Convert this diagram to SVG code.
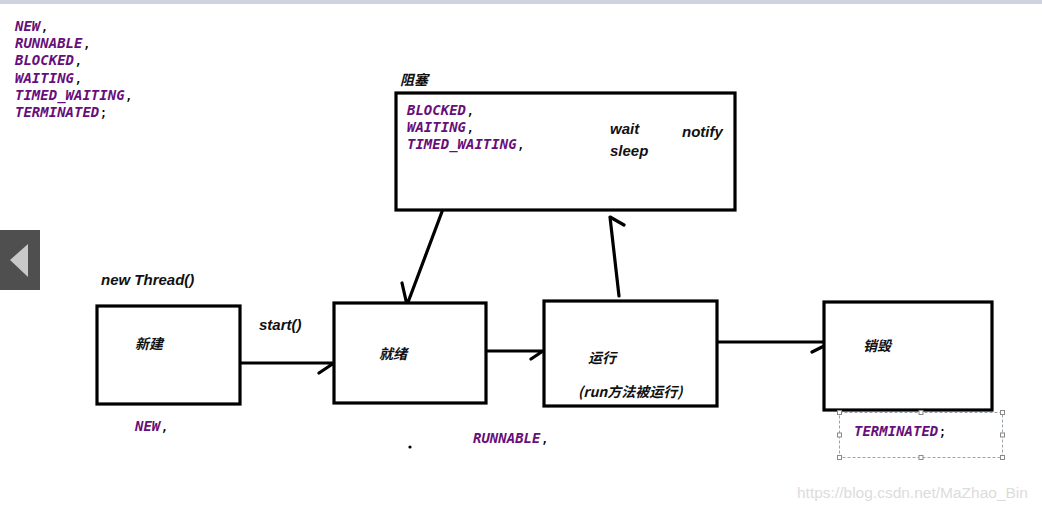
<svg xmlns="http://www.w3.org/2000/svg" width="1042" height="511" viewBox="0 0 1042 511">
  <style>
    .box { fill: #ffffff; stroke: #000000; stroke-width: 3.2; }
    .edge { fill: none; stroke: #000000; stroke-width: 3.2; stroke-linecap: round; stroke-linejoin: round; }
    .lbl { font-family: "Liberation Sans", "Noto Sans CJK SC", sans-serif; font-weight: bold; font-style: italic; font-size: 15px; fill: #111111; }
    .cn { font-family: "Noto Sans CJK SC", "Liberation Sans", sans-serif; font-weight: bold; font-style: italic; font-size: 14px; fill: #111111; }
    .const { font-family: "DejaVu Sans Mono", "Liberation Mono", monospace; font-weight: bold; font-style: italic; font-size: 14px; fill: #660e7a; }
    .punct { font-style: normal; font-weight: normal; fill: #000000; }
    .handle { fill: #ffffff; stroke: #8a8a8a; stroke-width: 1; }
  </style>

  <!-- window chrome -->
  <rect x="0" y="0" width="1042" height="4" fill="#cfd3df"/>
  <rect x="0" y="230" width="40" height="60" fill="#4f4f4f"/>
  <polygon points="10,260 28,244 28,277" fill="#c9c9c9"/>

  <!-- enum constant list -->
  <g id="state-list" class="const">
    <text x="15" y="31">NEW<tspan class="punct">,</tspan></text>
    <text x="15" y="48">RUNNABLE<tspan class="punct">,</tspan></text>
    <text x="15" y="65">BLOCKED<tspan class="punct">,</tspan></text>
    <text x="15" y="83">WAITING<tspan class="punct">,</tspan></text>
    <text x="15" y="100">TIMED_WAITING<tspan class="punct">,</tspan></text>
    <text x="15" y="117">TERMINATED<tspan class="punct">;</tspan></text>
  </g>

  <!-- connectors -->
  <g id="connectors">
    <!-- new -> ready -->
    <path class="edge" d="M240,363 L334,363 M319,373 L334,363"/>
    <!-- ready -> running -->
    <path class="edge" d="M486,351 L543,351 M531,359 L543,351"/>
    <!-- running -> terminated -->
    <path class="edge" d="M717,342 L832,342 M812,352 L832,342"/>
    <!-- blocked -> ready -->
    <path class="edge" d="M443,209 L407,305 M402,283 L407,305"/>
    <!-- running -> blocked -->
    <path class="edge" d="M619,296 L610,217 L624,225"/>
  </g>

  <!-- 阻塞 -->
  <g id="node-blocked">
    <text class="cn" x="400" y="85" font-size="13">阻塞</text>
    <rect class="box" x="396" y="93" width="339" height="117"/>
    <g class="const">
      <text x="407" y="115">BLOCKED<tspan class="punct">,</tspan></text>
      <text x="407" y="132">WAITING<tspan class="punct">,</tspan></text>
      <text x="407" y="149">TIMED_WAITING<tspan class="punct">,</tspan></text>
    </g>
    <text class="lbl" x="610" y="134">wait</text>
    <text class="lbl" x="610" y="156">sleep</text>
    <text class="lbl" x="682" y="137">notify</text>
  </g>

  <!-- 新建 -->
  <g id="node-new">
    <text class="lbl" x="101" y="285">new Thread()</text>
    <rect class="box" x="97" y="306" width="143" height="98"/>
    <text class="cn" x="135" y="349">新建</text>
    <text class="const" x="135" y="431">NEW<tspan class="punct">,</tspan></text>
    <text class="lbl" x="259" y="330">start()</text>
  </g>

  <!-- 就绪 -->
  <g id="node-ready">
    <rect class="box" x="334" y="303" width="152" height="100"/>
    <text class="cn" x="379" y="359">就绪</text>
    <text class="const" x="473" y="443">RUNNABLE<tspan class="punct">,</tspan></text>
    <circle cx="410" cy="447" r="1.6" fill="#000000"/>
  </g>

  <!-- 运行 -->
  <g id="node-running">
    <rect class="box" x="544" y="301" width="173" height="105"/>
    <text class="cn" x="588" y="363">运行</text>
    <text class="cn" x="578" y="397">(run方法被运行)</text>
  </g>

  <!-- 销毁 -->
  <g id="node-terminated">
    <rect class="box" x="824" y="302" width="168" height="108"/>
    <text class="cn" x="863" y="351">销毁</text>
    <rect x="839.5" y="412.5" width="163" height="45" fill="none" stroke="#9aa2aa" stroke-width="1" stroke-dasharray="3,2"/>
    <rect class="handle" x="837.5" y="410.5" width="4" height="4"/>
    <rect class="handle" x="919" y="410.5" width="4" height="4"/>
    <rect class="handle" x="1000.5" y="410.5" width="4" height="4"/>
    <rect class="handle" x="837.5" y="433" width="4" height="4"/>
    <rect class="handle" x="1000.5" y="433" width="4" height="4"/>
    <rect class="handle" x="837.5" y="455.5" width="4" height="4"/>
    <rect class="handle" x="919" y="455.5" width="4" height="4"/>
    <rect class="handle" x="1000.5" y="455.5" width="4" height="4"/>
    <text class="const" x="854" y="436">TERMINATED<tspan class="punct">;</tspan></text>
  </g>

  <text x="797" y="498" font-family="Liberation Sans, sans-serif" font-size="15.5" fill="#dcdcdc">https://blog.csdn.net/MaZhao_Bin</text>
</svg>
